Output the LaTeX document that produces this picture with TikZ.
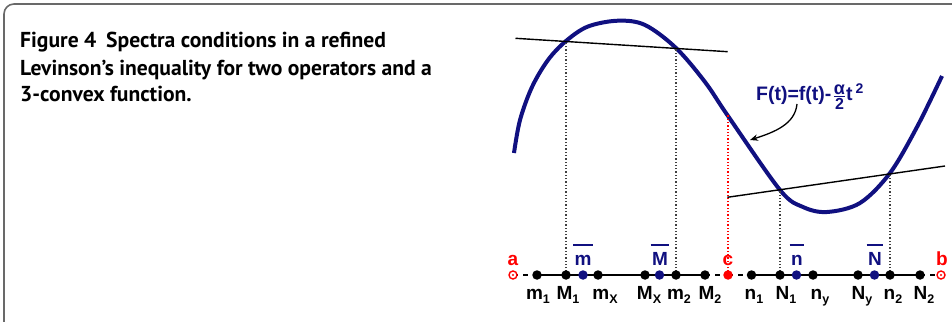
\documentclass[tikz,border=0pt]{standalone}
\usepackage{fontspec}
\setmainfont{Liberation Sans}
\newfontfamily\capfont{PT Sans}
\usetikzlibrary{arrows.meta}
\definecolor{navy}{RGB}{16,16,128}
\definecolor{myred}{RGB}{255,0,0}
\definecolor{framegray}{RGB}{105,105,105}
\newcommand\obar[1]{\leavevmode\setbox0\hbox{#1}\rlap{\kern-1.5pt\raise 19pt\hbox{\vrule width \dimexpr\wd0+3pt\relax height 1.6pt depth 0pt}}\box0}
\newcommand\lsub[1]{\raisebox{-4.5pt}{\fontsize{12.5}{12.5}\selectfont #1}}
\newcommand\myfrac[2]{\raisebox{-9.5pt}{\vbox{\halign{\hfil##\hfil\cr #1\cr\noalign{\kern1.2pt\hrule height 1.4pt\kern1.2pt} #2\cr}}}}
\begin{document}
\begin{tikzpicture}[x=1pt,y=-1pt,
  dot/.style={circle, fill=black, inner sep=0pt, minimum size=9.5pt},
  bdot/.style={dot, fill=navy},
  rdot/.style={dot, fill=myred},
  odot/.style={circle, draw=myred, fill=white, line width=1.4pt, inner sep=0pt, minimum size=8pt},
  axlab/.style={font=\fontsize{19}{19}\selectfont\bfseries, anchor=base, inner sep=0pt},
  caplab/.style={font=\capfont\bfseries\fontsize{21.6}{21.6}\selectfont, anchor=base west, inner sep=0pt},
  vdots/.style={dotted, line width=1.3pt, black!75},
  thickax/.style={line width=2.5pt, black},
  dashax/.style={line width=1.3pt, black, dash pattern=on 5pt off 5pt},
  chord/.style={line width=1.4pt, black}]
\useasboundingbox (0,0) rectangle (952,321);
% frame
\draw[framegray, line width=1.6pt, rounded corners=10pt] (4,326) -- (4,4) -- (965,4);
% caption
\node[caplab] (cap1) at (20,48) {Figure 4\hspace{0.45em}Spectra conditions in a refined};
\node[caplab] (cap2) at (20,75) {Levinson’s inequality for two operators and a};
\node[caplab] (cap3) at (20,101.5) {3-convex function.};
% axis points
\def\ay{275}
\coordinate (pa) at (513,\ay);
\coordinate (pm1) at (537,\ay);
\coordinate (pM1) at (566,\ay);
\coordinate (pmb) at (583,\ay);
\coordinate (pmX) at (598,\ay);
\coordinate (pMX) at (645,\ay);
\coordinate (pMb) at (659.5,\ay);
\coordinate (pm2) at (676,\ay);
\coordinate (pM2) at (705,\ay);
\coordinate (pc) at (728,\ay);
\coordinate (pn1) at (751.5,\ay);
\coordinate (pN1) at (780,\ay);
\coordinate (pnb) at (796.5,\ay);
\coordinate (pny) at (813,\ay);
\coordinate (pNy) at (858,\ay);
\coordinate (pNb) at (874.5,\ay);
\coordinate (pn2) at (890,\ay);
\coordinate (pN2) at (920,\ay);
\coordinate (pb) at (941,\ay);
% curve
\draw[navy, line width=4pt] plot[smooth, tension=0.55] coordinates {(514,153) (520,120) (532,87) (548,60) (566,41) (588,26.5) (618,20.7) (645,25) (676,48) (705,82) (728,116) (780,190) (803,207) (827,212) (860,203) (890,173) (917,127) (942,76)};
% chords
\coordinate (u1) at (515.5,38.3);
\coordinate (u2) at (727.7,51.7);
\coordinate (l1) at (727.3,197.3);
\coordinate (l2) at (945,166);
\draw[chord] (u1) -- (u2);
\draw[chord] (l1) -- (l2);
% verticals
\coordinate (tM1) at (566,41.5);
\coordinate (tm2) at (676,48.4);
\coordinate (tN1) at (780,189.7);
\coordinate (tn2) at (890,173.9);
\coordinate (tc) at (728,115);
\draw[vdots] (pM1) -- (tM1);
\draw[vdots] (pm2) -- (tm2);
\draw[vdots] (pN1) -- (tN1);
\draw[vdots] (pn2) -- (tn2);
\draw[myred, dotted, line width=1.3pt] (pc) -- (tc);
% axis
\draw[dashax] (pa) -- (pm1);
\draw[thickax] (pm1) -- (pM2);
\draw[dashax] (pM2) -- (pc);
\draw[dashax] (pc) -- (pn1);
\draw[thickax] (pn1) -- (pN2);
\draw[dashax] (pN2) -- (pb);
% dots
\node[odot] (da) at (pa) {};
\fill[myred] (pa) circle (1.2pt);
\node[odot] (db) at (pb) {};
\fill[myred] (pb) circle (1.2pt);
\node[rdot] (dc) at (pc) {};
\foreach \p in {pm1,pM1,pmX,pMX,pm2,pM2,pn1,pN1,pny,pNy,pn2,pN2} \node[dot] (d\p) at (\p) {};
\foreach \p in {pmb,pMb,pnb,pNb} \node[bdot] (d\p) at (\p) {};
% top labels
\node[axlab, myred] (la) at (513,265) {a};
\node[axlab, navy] (lmb) at (583,265) {\obar{m}};
\node[axlab, navy] (lMb) at (660,265) {\obar{M}};
\node[axlab, myred] (lc) at (728,265) {c};
\node[axlab, navy] (lnb) at (797,265) {\obar{n}};
\node[axlab, navy] (lNb) at (875,265) {\obar{N}};
\node[axlab, myred] (lb) at (942,265) {b};
% bottom labels
\def\by{299}
\node[axlab] (lm1) at (538,\by) {m\lsub{1}};
\node[axlab] (lM1) at (568,\by) {M\lsub{1}};
\node[axlab] (lmX) at (605,\by) {m\lsub{X}};
\node[axlab] (lMX) at (649,\by) {M\lsub{X}};
\node[axlab] (lm2) at (679,\by) {m\lsub{2}};
\node[axlab] (lM2) at (710,\by) {M\lsub{2}};
\node[axlab] (ln1) at (754,\by) {n\lsub{1}};
\node[axlab] (lN1) at (786,\by) {N\lsub{1}};
\node[axlab] (lny) at (820,\by) {n\lsub{y}};
\node[axlab] (lNy) at (862,\by) {N\lsub{y}};
\node[axlab] (ln2) at (893,\by) {n\lsub{2}};
\node[axlab] (lN2) at (924,\by) {N\lsub{2}};
% function label
\node[font=\fontsize{19.5}{19.5}\selectfont\bfseries, navy, anchor=base west, inner sep=0pt] (Flab) at (756,100)
  {F(t)=f(t)-\kern2.5pt\myfrac{\fontsize{18}{18}\selectfont\bfseries α}{\fontsize{16}{16}\selectfont\bfseries 2}\kern1pt t\kern3pt\raisebox{7pt}{\fontsize{14}{14}\selectfont 2}};
\coordinate (arrS) at (797,104);
\coordinate (arrE) at (750,140);
\draw[line width=1.3pt, -{Stealth[length=8pt,width=6.5pt]}] (arrS) .. controls (795,124) and (775,132) .. (arrE);
\end{tikzpicture}
\end{document}
